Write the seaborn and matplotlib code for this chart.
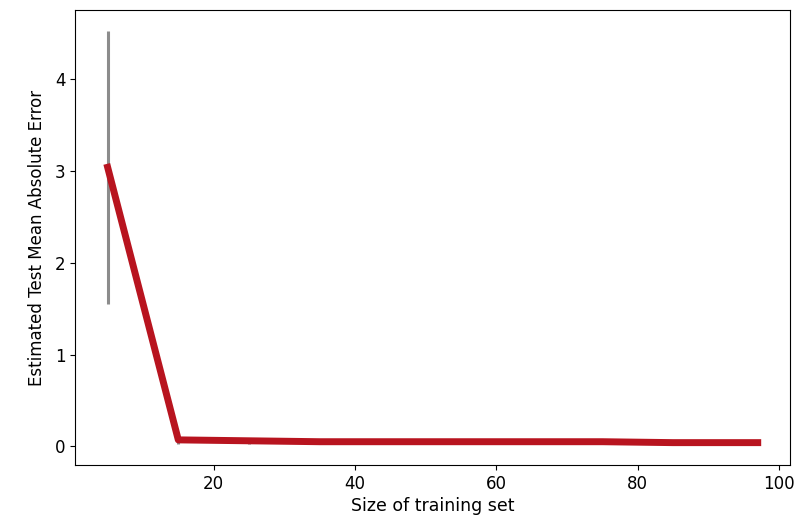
import numpy as np
import matplotlib
matplotlib.use("Agg")
import matplotlib.pyplot as plt
import seaborn as sns
import pandas as pd

train_sizes = [5, 15, 25, 35, 45, 55, 65, 75, 85, 97]
mean_mae = [3.04, 0.07, 0.06, 0.05, 0.05, 0.05, 0.05, 0.05, 0.04, 0.04]
std_mae = [1.49, 0.04, 0.03, 0.02, 0.02, 0.02, 0.02, 0.02, 0.02, 0.02]

df = pd.DataFrame({"size": train_sizes, "mae": mean_mae, "std": std_mae})

plt.rcParams["font.family"] = ["DejaVu Sans"]

fig = plt.figure(figsize=(8.08, 5.18), dpi=100)
ax = fig.add_axes([0.093, 0.102, 0.885, 0.879])

ax.errorbar(df["size"], df["mae"], yerr=df["std"], fmt="none", ecolor="#8c8c8c", elinewidth=2.2, zorder=1)
sns.lineplot(data=df, x="size", y="mae", ax=ax, color="#b8141f", linewidth=5, zorder=2)

ax.set_xlabel("Size of training set", fontsize=12.5, labelpad=3)
ax.set_ylabel("Estimated Test Mean Absolute Error", fontsize=12, labelpad=6)
ax.set_xticks([20, 40, 60, 80, 100])
ax.set_yticks([0, 1, 2, 3, 4])
ax.tick_params(labelsize=12)

fig.savefig("out.png", dpi=100)
